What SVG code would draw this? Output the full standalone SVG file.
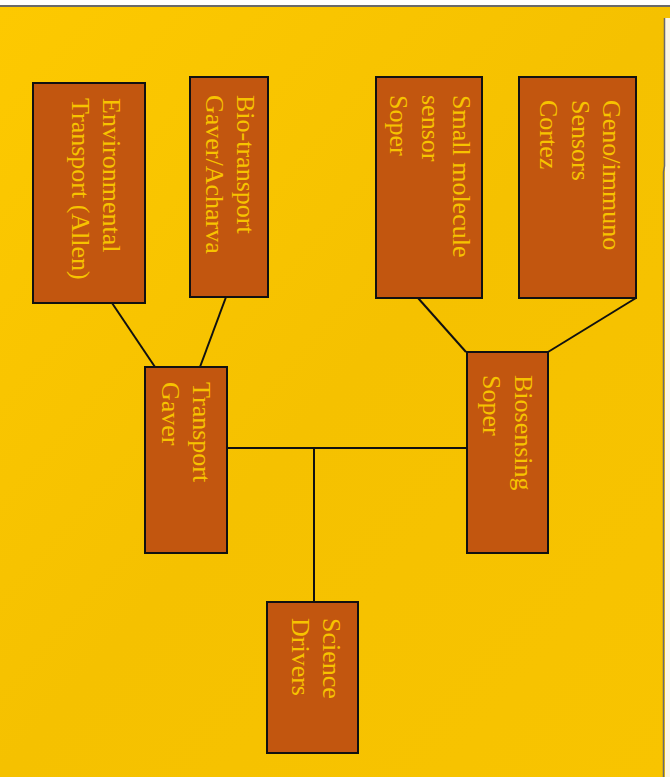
<svg xmlns="http://www.w3.org/2000/svg" width="670" height="777" viewBox="0 0 670 777">
<defs>
<linearGradient id="bg" x1="0" y1="0" x2="1" y2="1">
<stop offset="0" stop-color="#FDC900"/>
<stop offset="0.5" stop-color="#F5C100"/>
<stop offset="1" stop-color="#F8C400"/>
</linearGradient>
</defs>
<style>
.box{fill:#C2560F;stroke:#111;stroke-width:2}
.lbl{font-family:"Liberation Serif","Times New Roman",serif;font-size:26px;fill:#F7C300}
.con line{stroke:#111;stroke-width:2}
</style>
<rect x="0" y="0" width="670" height="777" fill="#FFFFFF"/>
<rect x="0" y="7" width="670" height="770" fill="url(#bg)"/>
<rect x="665" y="18" width="5" height="759" fill="#FBF6E6"/>
<line x1="0" y1="6" x2="670" y2="6" stroke="#6A6A6A" stroke-width="2"/>
<polyline points="664.5,18 664.5,166 663.5,172 663.5,777" fill="none" stroke="#6A6A6A" stroke-width="1.5"/>
<g class="con">
<line x1="112" y1="303" x2="155" y2="367"/>
<line x1="226" y1="297" x2="200" y2="367"/>
<line x1="418" y1="298" x2="466" y2="352"/>
<line x1="636" y1="298" x2="548" y2="352"/>
<line x1="227" y1="448" x2="467" y2="448"/>
<line x1="314" y1="448" x2="314" y2="602"/>
</g>
<g id="env">
<rect class="box" x="33" y="83" width="112" height="220"/>
<text class="lbl" transform="translate(103,98) rotate(90)"><tspan x="0" y="0">Environmental</tspan><tspan x="0" dy="31">Transport (Allen)</tspan></text>
</g>
<g id="bio">
<rect class="box" x="190" y="77" width="78" height="220"/>
<text class="lbl" transform="translate(237,95) rotate(90)"><tspan x="0" y="0">Bio-transport</tspan><tspan x="0" dy="31">Gaver/Acharva</tspan></text>
</g>
<g id="small">
<rect class="box" x="376" y="77" width="106" height="221"/>
<text class="lbl" transform="translate(453,95) rotate(90)"><tspan x="0" y="0">Small molecule</tspan><tspan x="0" dy="31">sensor</tspan><tspan x="0" dy="32">Soper</tspan></text>
</g>
<g id="geno">
<rect class="box" x="519" y="77" width="117" height="221"/>
<text class="lbl" transform="translate(603,100) rotate(90)"><tspan x="0" y="0">Geno/immuno</tspan><tspan x="0" dy="31">Sensors</tspan><tspan x="0" dy="32">Cortez</tspan></text>
</g>
<g id="transport">
<rect class="box" x="145" y="367" width="82" height="186"/>
<text class="lbl" transform="translate(193,382) rotate(90)"><tspan x="0" y="0">Transport</tspan><tspan x="0" dy="31">Gaver</tspan></text>
</g>
<g id="biosensing">
<rect class="box" x="467" y="352" width="81" height="201"/>
<text class="lbl" transform="translate(515,375) rotate(90)"><tspan x="0" y="0">Biosensing</tspan><tspan x="0" dy="32">Soper</tspan></text>
</g>
<g id="science">
<rect class="box" x="267" y="602" width="91" height="151"/>
<text class="lbl" transform="translate(323,618) rotate(90)"><tspan x="0" y="0">Science</tspan><tspan x="0" dy="31">Drivers</tspan></text>
</g>
</svg>
